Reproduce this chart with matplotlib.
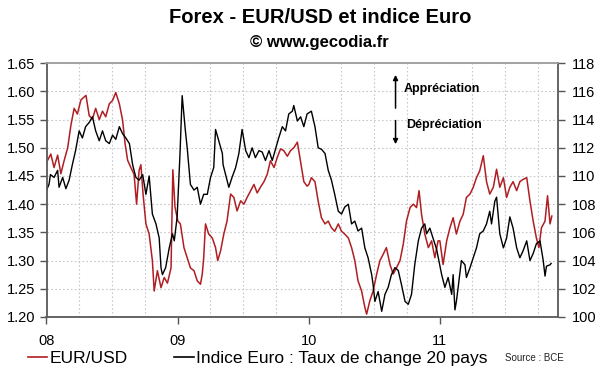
import matplotlib
matplotlib.use("Agg")
import matplotlib.pyplot as plt
import matplotlib.dates as mdates
from matplotlib.lines import Line2D
import pandas as pd

plt.rcParams['font.family'] = ['Liberation Sans', 'DejaVu Sans']

# EUR/USD (left axis)
eur_dates = [
    '2008-01-01', '2008-01-13', '2008-01-22', '2008-02-01', '2008-02-10', '2008-02-19',
    '2008-02-29', '2008-03-09', '2008-03-18', '2008-03-27', '2008-04-06', '2008-04-20',
    '2008-04-29', '2008-05-08', '2008-05-17', '2008-05-27', '2008-06-05', '2008-06-14',
    '2008-06-24', '2008-07-03', '2008-07-12', '2008-07-22', '2008-07-31', '2008-08-07',
    '2008-08-14', '2008-08-23', '2008-09-01', '2008-09-08', '2008-09-15', '2008-09-20',
    '2008-09-26', '2008-10-04', '2008-10-13', '2008-10-22', '2008-10-27', '2008-11-05',
    '2008-11-15', '2008-11-24', '2008-12-03', '2008-12-13', '2008-12-18', '2008-12-24',
    '2009-01-01', '2009-01-08', '2009-01-18', '2009-01-27', '2009-02-05', '2009-02-15',
    '2009-02-24', '2009-03-05', '2009-03-10', '2009-03-14', '2009-03-19', '2009-03-28',
    '2009-04-07', '2009-04-16', '2009-04-22', '2009-04-30', '2009-05-09', '2009-05-18',
    '2009-05-28', '2009-06-06', '2009-06-15', '2009-06-25', '2009-07-04', '2009-07-13',
    '2009-07-23', '2009-08-01', '2009-08-10', '2009-08-19', '2009-08-29', '2009-09-07',
    '2009-09-16', '2009-09-26', '2009-10-05', '2009-10-14', '2009-10-23', '2009-11-02',
    '2009-11-11', '2009-11-20', '2009-11-30', '2009-12-09', '2009-12-18', '2009-12-27',
    '2010-01-01', '2010-01-08', '2010-01-18', '2010-01-27', '2010-02-05', '2010-02-15',
    '2010-02-24', '2010-03-05', '2010-03-14', '2010-03-24', '2010-04-02', '2010-04-11',
    '2010-04-21', '2010-04-30', '2010-05-09', '2010-05-18', '2010-05-28', '2010-06-06',
    '2010-06-11', '2010-06-20', '2010-06-29', '2010-07-09', '2010-07-18', '2010-07-27',
    '2010-08-05', '2010-08-15', '2010-08-24', '2010-09-02', '2010-09-12', '2010-09-21',
    '2010-09-30', '2010-10-10', '2010-10-19', '2010-10-28', '2010-11-04', '2010-11-11',
    '2010-11-20', '2010-11-30', '2010-12-09', '2010-12-18', '2010-12-27',
    '2011-01-01', '2011-01-10', '2011-01-20', '2011-01-29', '2011-02-07', '2011-02-16',
    '2011-02-26', '2011-03-07', '2011-03-16', '2011-03-26', '2011-04-04', '2011-04-13',
    '2011-04-22', '2011-05-02', '2011-05-11', '2011-05-20', '2011-05-30', '2011-06-08',
    '2011-06-17', '2011-06-27', '2011-07-06', '2011-07-15', '2011-07-24', '2011-08-03',
    '2011-08-12', '2011-08-21', '2011-08-31', '2011-09-09', '2011-09-18', '2011-09-27',
    '2011-10-04', '2011-10-11', '2011-10-21', '2011-10-28', '2011-11-04', '2011-11-09',
]
eur_usd = [
    1.474, 1.489, 1.465, 1.487, 1.454, 1.477,
    1.500, 1.540, 1.570, 1.560, 1.585, 1.593,
    1.557, 1.551, 1.570, 1.550, 1.565, 1.555,
    1.578, 1.584, 1.598, 1.578, 1.549, 1.507,
    1.478, 1.465, 1.453, 1.400, 1.460, 1.470,
    1.418, 1.365, 1.347, 1.300, 1.246, 1.282,
    1.252, 1.270, 1.260, 1.287, 1.461, 1.395,
    1.370, 1.365, 1.323, 1.305, 1.287, 1.282,
    1.264, 1.258, 1.276, 1.305, 1.365, 1.347,
    1.340, 1.323, 1.300, 1.317, 1.347, 1.370,
    1.418, 1.412, 1.388, 1.406, 1.400, 1.412,
    1.424, 1.435, 1.420, 1.430, 1.440, 1.453,
    1.477, 1.465, 1.483, 1.498, 1.495, 1.485,
    1.495, 1.500, 1.510, 1.475, 1.440, 1.432,
    1.435, 1.447, 1.440, 1.405, 1.376, 1.365,
    1.370, 1.358, 1.352, 1.365, 1.352, 1.347,
    1.340, 1.323, 1.300, 1.264, 1.246, 1.217,
    1.205, 1.229, 1.246, 1.276, 1.300, 1.311,
    1.323, 1.293, 1.276, 1.287, 1.300, 1.329,
    1.370, 1.394, 1.400, 1.394, 1.424, 1.382,
    1.347, 1.323, 1.335, 1.305, 1.335,
    1.335, 1.293, 1.335, 1.358, 1.376, 1.347,
    1.370, 1.382, 1.412, 1.418, 1.430, 1.447,
    1.459, 1.486, 1.440, 1.418, 1.430, 1.462,
    1.430, 1.447, 1.412, 1.430, 1.440, 1.424,
    1.440, 1.444, 1.447, 1.406, 1.370, 1.340,
    1.323, 1.358, 1.370, 1.415, 1.365, 1.379,
]

# Indice Euro, taux de change effectif 20 pays (right axis)
idx_dates = [
    '2008-01-01', '2008-01-08', '2008-01-12', '2008-01-22', '2008-02-01', '2008-02-05',
    '2008-02-15', '2008-02-24', '2008-03-04', '2008-03-13', '2008-03-22', '2008-04-01',
    '2008-04-10', '2008-04-19', '2008-04-29', '2008-05-08', '2008-05-17', '2008-05-27',
    '2008-06-05', '2008-06-14', '2008-06-24', '2008-07-03', '2008-07-12', '2008-07-22',
    '2008-07-31', '2008-08-09', '2008-08-19', '2008-08-28', '2008-09-06', '2008-09-15',
    '2008-09-25', '2008-10-04', '2008-10-13', '2008-10-22', '2008-11-01', '2008-11-10',
    '2008-11-15', '2008-11-19', '2008-11-28', '2008-12-08', '2008-12-17', '2008-12-22',
    '2008-12-30', '2009-01-07', '2009-01-13', '2009-01-22', '2009-01-27', '2009-02-01',
    '2009-02-05', '2009-02-15', '2009-02-24', '2009-03-05', '2009-03-14', '2009-03-24',
    '2009-04-02', '2009-04-11', '2009-04-16', '2009-04-25', '2009-05-05', '2009-05-07',
    '2009-05-14', '2009-05-23', '2009-06-01', '2009-06-11', '2009-06-20', '2009-06-29',
    '2009-07-09', '2009-07-18', '2009-07-27', '2009-08-05', '2009-08-15', '2009-08-24',
    '2009-09-02', '2009-09-12', '2009-09-21', '2009-09-30', '2009-10-09', '2009-10-19',
    '2009-10-28', '2009-11-06', '2009-11-16', '2009-11-20', '2009-11-30', '2009-12-09',
    '2009-12-18', '2009-12-27',
    '2010-01-08', '2010-01-18', '2010-01-27', '2010-02-05', '2010-02-15', '2010-02-24',
    '2010-03-05', '2010-03-14', '2010-03-24', '2010-04-02', '2010-04-11', '2010-04-21',
    '2010-04-30', '2010-05-09', '2010-05-18', '2010-05-28', '2010-06-06', '2010-06-15',
    '2010-06-25', '2010-06-29', '2010-07-04', '2010-07-13', '2010-07-23', '2010-08-01',
    '2010-08-10', '2010-08-19', '2010-08-29', '2010-09-07', '2010-09-16', '2010-09-26',
    '2010-10-05', '2010-10-14', '2010-10-23', '2010-11-02', '2010-11-11', '2010-11-20',
    '2010-11-25', '2010-12-04', '2010-12-14', '2010-12-23',
    '2011-01-06', '2011-01-15', '2011-01-24', '2011-02-03', '2011-02-07', '2011-02-12',
    '2011-02-16', '2011-02-21', '2011-03-02', '2011-03-12', '2011-03-16', '2011-03-26',
    '2011-04-04', '2011-04-13', '2011-04-22', '2011-05-02', '2011-05-11', '2011-05-20',
    '2011-05-25', '2011-06-03', '2011-06-08', '2011-06-13', '2011-06-17', '2011-06-27',
    '2011-07-06', '2011-07-15', '2011-07-24', '2011-08-03', '2011-08-12', '2011-08-21',
    '2011-08-31', '2011-09-09', '2011-09-18', '2011-09-27', '2011-10-07', '2011-10-16',
    '2011-10-21', '2011-10-25', '2011-11-04', '2011-11-07',
]
indice_euro = [
    109.0, 109.4, 110.1, 109.9, 110.4, 109.2,
    109.9, 109.1, 109.7, 110.8, 111.8, 113.2,
    112.7, 113.5, 113.8, 114.2, 113.2, 112.5,
    113.2, 112.5, 112.3, 112.9, 112.6, 113.5,
    113.0, 112.7, 112.3, 110.8, 109.9, 109.7,
    110.1, 108.7, 110.0, 107.3, 106.6, 105.6,
    103.5, 103.0, 103.5, 104.9, 105.9, 105.4,
    107.1, 111.6, 115.7, 113.2, 112.0, 110.6,
    109.4, 109.0, 109.2, 108.0, 108.7, 108.7,
    109.9, 110.6, 113.3, 112.5, 111.6, 110.8,
    110.1, 109.2, 109.9, 110.6, 111.6, 113.3,
    111.8, 111.3, 112.0, 111.3, 111.8, 111.7,
    111.1, 111.8, 111.1, 111.9, 112.7, 113.5,
    113.2, 114.4, 114.6, 115.0, 113.9, 114.2,
    113.5, 114.4,
    114.6, 113.5, 112.0, 111.9, 111.6, 110.4,
    109.7, 108.7, 107.5, 107.3, 107.8, 108.0,
    106.6, 106.8, 106.1, 106.3, 104.9, 104.2,
    103.0, 102.3, 101.1, 101.8, 100.4, 101.6,
    102.1, 103.0, 103.5, 103.3, 102.3, 101.1,
    100.9, 101.6, 103.7, 105.4, 106.3, 106.6,
    105.9, 106.3, 105.5, 104.8,
    103.0, 102.1, 102.8, 101.6, 103.0, 100.5,
    101.1, 102.1, 104.0, 103.7, 102.8, 103.5,
    104.2, 104.9, 105.9, 106.1, 106.6, 107.5,
    106.6, 108.2, 108.5, 107.1, 105.9, 104.9,
    105.6, 107.1, 106.3, 104.9, 104.2, 104.7,
    105.4, 104.0, 104.5, 105.2, 105.4, 104.0,
    102.9, 103.6, 103.7, 103.8,
]

years = ['2008-01-01', '2009-01-01', '2010-01-01', '2011-01-01']
year_labels = ['08', '09', '10', '11']

red = '#b01e23'

fig = plt.figure(figsize=(6, 3.72), dpi=100)
ax = fig.add_axes([0.0775, 0.148, 0.853, 0.682])
ax2 = ax.twinx()

ax.plot(pd.to_datetime(eur_dates), eur_usd, color=red, lw=1.1)
ax2.plot(pd.to_datetime(idx_dates), indice_euro, color='black', lw=1.0)

ax.set_xlim(pd.Timestamp('2008-01-01'), pd.Timestamp('2011-11-27'))
ax.set_ylim(1.20, 1.65)
ax2.set_ylim(100, 118)
ax.set_yticks([1.20 + 0.05 * i for i in range(10)])
ax2.set_yticks(range(100, 119, 2))
ax.yaxis.set_major_formatter(matplotlib.ticker.FormatStrFormatter('%.2f'))

ax.set_xticks(pd.to_datetime(years))
ax.set_xticklabels(year_labels)
ax.xaxis.set_minor_locator(mdates.MonthLocator(bymonth=[1, 4, 7, 10]))

ax.grid(True, which='major', axis='y', color='#c8c8c8', ls=(0, (1.5, 2)), lw=0.8)
ax.grid(True, which='minor', axis='x', color='#c8c8c8', ls=(0, (1.5, 2)), lw=0.8)
ax.set_axisbelow(True)

ax.tick_params(axis='x', which='major', length=5, width=1, pad=7, labelsize=10.5,
               color='#555555')
ax.tick_params(axis='x', which='minor', length=0)
ax.tick_params(axis='y', length=5, width=1, pad=3, labelsize=10.5, color='#555555')
ax2.tick_params(axis='y', length=5, width=1, pad=5, labelsize=10.5, color='#555555')

for a in (ax, ax2):
    for s in a.spines.values():
        s.set_color('#606060')
        s.set_linewidth(1.1)
    a.spines['top'].set_color('#a0a0a0')

fig.text(0.533, 0.952, 'Forex - EUR/USD et indice Euro', ha='center', va='center',
         fontsize=14.5, fontweight='bold')
fig.text(0.532, 0.887, '\u00a9 www.gecodia.fr', ha='center', va='center',
         fontsize=12, fontweight='bold')

# sens de variation
ax.annotate('', xy=(0.682, 0.965), xytext=(0.682, 0.812), xycoords='axes fraction',
            arrowprops=dict(arrowstyle='-|>', lw=1.1, color='black', mutation_scale=7))
ax.annotate('', xy=(0.682, 0.670), xytext=(0.682, 0.785), xycoords='axes fraction',
            arrowprops=dict(arrowstyle='-|>', lw=1.1, color='black', mutation_scale=7))
ax.text(0.697, 0.900, 'Appréciation', transform=ax.transAxes, va='center',
        fontsize=9, fontweight='bold')
ax.text(0.703, 0.755, 'Dépréciation', transform=ax.transAxes, va='center',
        fontsize=9, fontweight='bold')

handles = [Line2D([], [], color=red, lw=1.2), Line2D([], [], color='black', lw=1.2)]
fig.legend(handles, ['EUR/USD', 'Indice Euro : Taux de change 20 pays'],
           loc='center left', bbox_to_anchor=(0.046, 0.036), ncol=2, frameon=False,
           fontsize=12.5, handlelength=1.1, handletextpad=0.15, columnspacing=2.7,
           borderpad=0, borderaxespad=0)
fig.text(0.842, 0.038, 'Source : BCE', fontsize=7, va='center', color='#222222')

fig.savefig('out.png', dpi=100)
